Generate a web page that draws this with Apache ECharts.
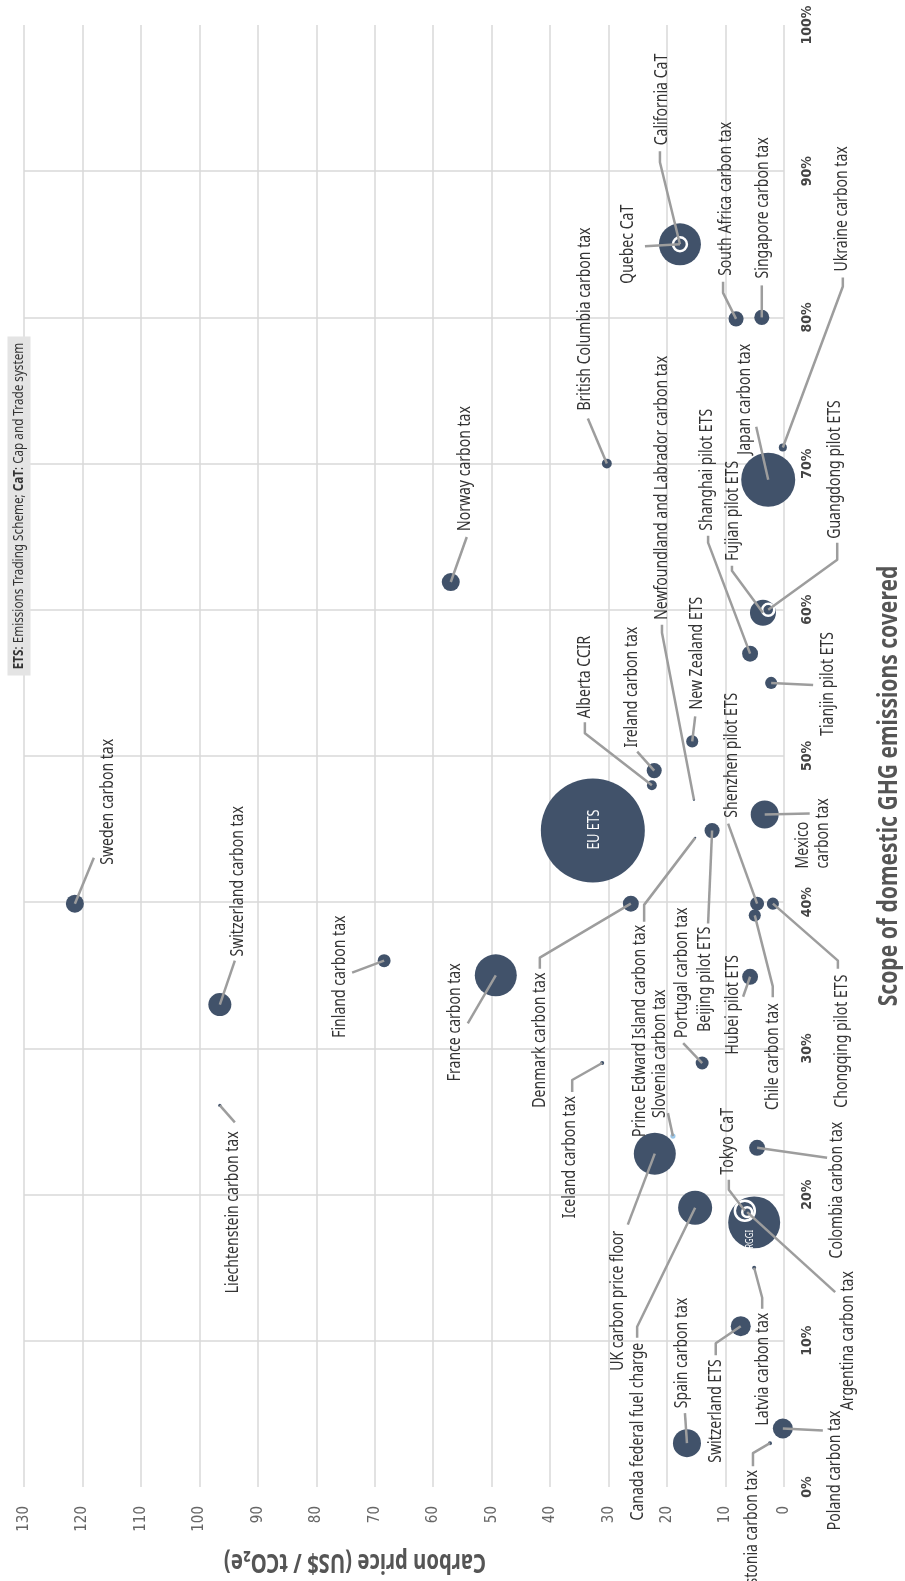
<!DOCTYPE html>
<html>
<head>
<meta charset="utf-8">
<script src="https://cdn.jsdelivr.net/npm/echarts@6/dist/echarts.min.js"></script>
<style>
  html, body { margin: 0; padding: 0; background: #fff; }
  #chart { width: 905px; height: 1581px; }
</style>
</head>
<body>
<div id="chart"></div>
<script>
var schemes = [
  'Sweden carbon tax', 'Switzerland carbon tax', 'Liechtenstein carbon tax', 'Finland carbon tax',
  'France carbon tax', 'Norway carbon tax', 'British Columbia carbon tax', 'Iceland carbon tax',
  'Denmark carbon tax', 'EU ETS', 'Alberta CCIR', 'Ireland carbon tax',
  'Newfoundland and Labrador carbon tax', 'Prince Edward Island carbon tax', 'New Zealand ETS', 'Beijing pilot ETS',
  'Shenzhen pilot ETS', 'Chongqing pilot ETS', 'Chile carbon tax', 'Hubei pilot ETS',
  'Portugal carbon tax', 'Slovenia carbon tax', 'UK carbon price floor', 'Canada federal fuel charge',
  'Spain carbon tax', 'Switzerland ETS', 'Latvia carbon tax', 'Estonia carbon tax',
  'Poland carbon tax', 'RGGI', 'Tokyo CaT', 'Argentina carbon tax',
  'Colombia carbon tax', 'Mexico carbon tax', 'Tianjin pilot ETS', 'Shanghai pilot ETS',
  'Fujian pilot ETS', 'Guangdong pilot ETS', 'Japan carbon tax', 'Ukraine carbon tax',
  'South Africa carbon tax', 'Singapore carbon tax', 'California CaT', 'Quebec CaT'
]
// carbon price, US$ / tCO2e
var price = [
  121.3, 96.5, 96.5, 68.4, 49.3, 57.0, 30.3, 31.1,
  26.2, 32.7, 22.6, 22.2, 15.4, 15.2, 15.7, 12.3,
  4.6, 1.9, 5.0, 5.8, 14.0, 19.0, 22.1, 15.2,
  16.6, 7.4, 5.1, 2.4, 0.2, 5.1, 6.7, 6.3,
  4.6, 3.3, 2.2, 5.8, 3.6, 2.7, 2.7, 0.2,
  8.2, 3.8, 17.8, 17.8
]
// share of domestic GHG emissions covered, %
var scope = [
  39.9, 33.0, 26.1, 36.0, 35.0, 61.9, 70.0, 29.0,
  39.9, 44.9, 48.0, 49.0, 47.0, 44.4, 51.0, 44.9,
  39.9, 39.9, 39.1, 34.9, 29.0, 24.0, 22.8, 19.1,
  3.0, 11.0, 15.0, 3.0, 4.0, 18.1, 18.9, 18.8,
  23.2, 46.0, 55.0, 57.0, 59.8, 60.0, 68.9, 71.1,
  79.9, 80.0, 85.0, 85.0
]
// emissions covered, MtCO2e (bubble area)
var emissions = [
  60, 98, 2, 31, 326, 60, 18, 3,
  47, 2000, 18, 42, 1, 1, 27, 42,
  36, 27, 27, 47, 31, 5, 326, 214,
  145, 74, 3, 3, 74, 500, 74, 18,
  47, 145, 27, 47, 125, 27, 540, 12,
  42, 42, 326, 36
]
var priceTicks = [0, 10, 20, 30, 40, 50, 60, 70, 80, 90, 100, 110, 120, 130]
var scopeTicks = [0, 10, 20, 30, 40, 50, 60, 70, 80, 90, 100]

var ringed = ['Quebec CaT', 'Tokyo CaT', 'Argentina carbon tax', 'Guangdong pilot ETS']
var lightDots = ['Slovenia carbon tax']

// label placement: leader line points and text anchor, in px relative to the bubble centre
var labelLayout = {
  'Sweden carbon tax': { line: [[19, -46]], text: [33, -39], align: 'left' },
  'Switzerland carbon tax': { line: [[15, -44]], text: [18, -48], align: 'left' },
  'Liechtenstein carbon tax': { line: [[15, 17]], text: [13, 26], align: 'right' },
  'Finland carbon tax': { line: [[-32, 12]], text: [-44, 16], align: 'center' },
  'France carbon tax': { line: [[-28, 48]], text: [-41, 47], align: 'center' },
  'Norway carbon tax': { line: [[16, -45]], text: [14, -51], align: 'left' },
  'British Columbia carbon tax': { line: [[-19, -45]], text: [-22, -53], align: 'left' },
  'Iceland carbon tax': { line: [[-30, 17], [-30, 29]], text: [-32, 33], align: 'right' },
  'Denmark carbon tax': { line: [[-91, 54], [-91, 65]], text: [-91, 69], align: 'right' },
  'EU ETS': { text: [2, -1], align: 'center', inside: true, size: 16 },
  'Alberta CCIR': { line: [[-67, -52], [-67, -63]], text: [-67, -67], align: 'left' },
  'Ireland carbon tax': { line: [[-17, -19]], text: [-22, -23], align: 'left' },
  'Newfoundland and Labrador carbon tax': { line: [[-32, -167], [-32, -175]], text: [-32, -180], align: 'left' },
  'Prince Edward Island carbon tax': { line: [[-51, 67], [-51, 84]], text: [-55, 87], align: 'right' },
  'New Zealand ETS': { line: [[3, -25]], text: [5, -32], align: 'left' },
  'Beijing pilot ETS': { line: [[-4, 93]], text: [-7, 96], align: 'right' },
  'Shenzhen pilot ETS': { line: [[-29, -80]], text: [-25, -86], align: 'left' },
  'Chongqing pilot ETS': { line: [[65, 57], [65, 65]], text: [69, 71], align: 'right' },
  'Chile carbon tax': { line: [[18, 71], [18, 82]], text: [18, 88], align: 'right' },
  'Hubei pilot ETS': { line: [[-7, 20]], text: [-17, 28], align: 'center' },
  'Portugal carbon tax': { line: [[-19, -20]], text: [-20, -25], align: 'left' },
  'Slovenia carbon tax': { line: [[-5, -23]], text: [-13, -18], align: 'left' },
  'UK carbon price floor': { line: [[-27, 71]], text: [-37, 77], align: 'right' },
  'Canada federal fuel charge': { line: [[-58, 119], [-58, 130]], text: [-57, 135], align: 'right' },
  'Spain carbon tax': { line: [[-2, -30]], text: [-5, -35], align: 'left' },
  'Switzerland ETS': { line: [[-25, 17], [-25, 29]], text: [-25, 33], align: 'right' },
  'Latvia carbon tax': { line: [[8, 30], [8, 41]], text: [9, 45], align: 'right' },
  'Estonia carbon tax': { line: [[-17, 10], [-17, 23]], text: [-18, 27], align: 'right' },
  'Poland carbon tax': { line: [[40, 2]], text: [52, -18], align: 'right' },
  'RGGI': { text: [-4, 17], align: 'center', inside: true, size: 10 },
  'Tokyo CaT': { line: [[-16, -21], [-16, -31]], text: [-17, -36], align: 'left' },
  'Argentina carbon tax': { line: [[88, 80]], text: [101, 59], align: 'right' },
  'Colombia carbon tax': { line: [[70, 10]], text: [80, -26], align: 'right' },
  'Mexico carbon tax': { line: [[45, -1]], text: [48, 54], align: 'left', label: 'Mexico\ncarbon tax' },
  'Tianjin pilot ETS': { line: [[42, 2]], text: [57, 1], align: 'center' },
  'Shanghai pilot ETS': { line: [[-42, -111], [-42, -118]], text: [-43, -123], align: 'left' },
  'Fujian pilot ETS': { line: [[-31, -42], [-31, -47]], text: [-30, -52], align: 'left' },
  'Guangdong pilot ETS': { line: [[69, -50], [69, -67]], text: [67, -71], align: 'left' },
  'Japan carbon tax': { line: [[-12, -53]], text: [-23, -25], align: 'left' },
  'Ukraine carbon tax': { line: [[60, -161], [60, -170]], text: [59, -176], align: 'left' },
  'South Africa carbon tax': { line: [[-13, -26], [-13, -37]], text: [-10, -43], align: 'left' },
  'Singapore carbon tax': { line: [[0, -32]], text: [1, -39], align: 'left' },
  'California CaT': { line: [[-20, -82], [-20, -93]], text: [-18, -99], align: 'left' },
  'Quebec CaT': { line: [[-35, 2]], text: [-52, 0], align: 'center' }
}

var FONT = "'Noto Sans', 'DejaVu Sans', sans-serif"
var NARROW = 0.78
var BUBBLE = '#41526a'

var points = schemes.map(function (name, i) {
  var item = { name: name, value: [price[i], scope[i], emissions[i]] }
  if (ringed.indexOf(name) >= 0) {
    item.itemStyle = { borderColor: '#fff', borderWidth: 2.5 }
  }
  if (lightDots.indexOf(name) >= 0) {
    item.itemStyle = { color: '#9cc8ea' }
  }
  return item
})

function renderLabel (params, api) {
  var name = schemes[params.dataIndex]
  var lay = labelLayout[name]
  var p = api.coord([api.value(0), api.value(1)])
  var children = []
  if (lay.line) {
    var pts = [p].concat(lay.line.map(function (d) { return [p[0] + d[0], p[1] + d[1]] }))
    children.push({
      type: 'polyline',
      shape: { points: pts },
      style: { stroke: '#9d9d9d', lineWidth: 2.5, fill: 'none', lineJoin: 'round' }
    })
  }
  children.push({
    type: 'text',
    x: p[0] + lay.text[0],
    y: p[1] + lay.text[1],
    rotation: Math.PI / 2,
    scaleX: NARROW,
    style: {
      text: lay.label || name,
      fill: lay.inside ? '#fff' : '#333',
      fontSize: lay.size || 18,
      fontFamily: FONT,
      lineHeight: 20,
      align: lay.align,
      verticalAlign: 'middle'
    }
  })
  return { type: 'group', children: children }
}

var option = {
  animation: false,
  backgroundColor: '#fff',
  grid: { left: 24, right: 121, top: 25, bottom: 94, containLabel: false, outerBoundsMode: 'none' },
  xAxis: {
    type: 'value',
    position: 'bottom',
    inverse: true,
    min: priceTicks[0],
    max: priceTicks[priceTicks.length - 1],
    interval: priceTicks[1] - priceTicks[0],
    axisLine: { show: false },
    axisTick: { show: false },
    splitLine: { show: true, lineStyle: { color: '#d8d8d8', width: 1.5 } },
    axisLabel: {
      rotate: 90,
      margin: 19,
      color: '#666',
      fontSize: 15,
      fontFamily: "'DejaVu Sans Condensed', 'DejaVu Sans', sans-serif"
    }
  },
  yAxis: {
    type: 'value',
    position: 'right',
    min: scopeTicks[0],
    max: scopeTicks[scopeTicks.length - 1],
    interval: scopeTicks[1] - scopeTicks[0],
    axisLine: { show: false },
    axisTick: { show: false },
    splitLine: { show: true, showMinLine: false, showMaxLine: false, lineStyle: { color: '#d8d8d8', width: 1.5 } },
    axisLabel: {
      rotate: 90,
      margin: 16,
      color: '#444',
      fontSize: 14,
      fontWeight: 'bold',
      fontFamily: "'DejaVu Sans Condensed', 'DejaVu Sans', sans-serif",
      formatter: '{value}%'
    }
  },
  graphic: [
    {
      type: 'text',
      x: 19,
      y: 506,
      rotation: Math.PI / 2,
      scaleX: NARROW,
      z: 10,
      style: {
        text: '{b|ETS}: Emissions Trading Scheme; {b|CaT}: Cap and Trade system',
        fontSize: 15,
        fontFamily: FONT,
        fill: '#333',
        align: 'center',
        verticalAlign: 'middle',
        backgroundColor: '#e4e4e4',
        padding: [4, 8],
        rich: { b: { fontWeight: 'bold', fontSize: 15, fontFamily: FONT, fill: '#333' } }
      }
    },
    {
      type: 'text',
      x: 355,
      y: 1561,
      rotation: Math.PI,
      scaleX: NARROW,
      style: {
        text: 'Carbon price (US$ / tCO₂e)',
        fontSize: 26,
        fontWeight: 'bold',
        fontFamily: FONT,
        fill: '#555',
        align: 'center',
        verticalAlign: 'middle'
      }
    },
    {
      type: 'text',
      x: 889,
      y: 786,
      rotation: Math.PI / 2,
      scaleX: NARROW,
      style: {
        text: 'Scope of domestic GHG emissions covered',
        fontSize: 27,
        fontWeight: 'bold',
        fontFamily: FONT,
        fill: '#555',
        align: 'center',
        verticalAlign: 'middle'
      }
    }
  ],
  series: [
    {
      type: 'scatter',
      data: points,
      symbolSize: function (val) { return Math.max(2, 2.325 * Math.sqrt(val[2])) },
      itemStyle: { color: BUBBLE, opacity: 1 },
      silent: true,
      z: 2
    },
    {
      type: 'custom',
      data: points,
      renderItem: renderLabel,
      silent: true,
      clip: false,
      z: 3
    }
  ]
}

var chart = echarts.init(document.getElementById('chart'))
chart.setOption(option)
</script>
</body>
</html>
